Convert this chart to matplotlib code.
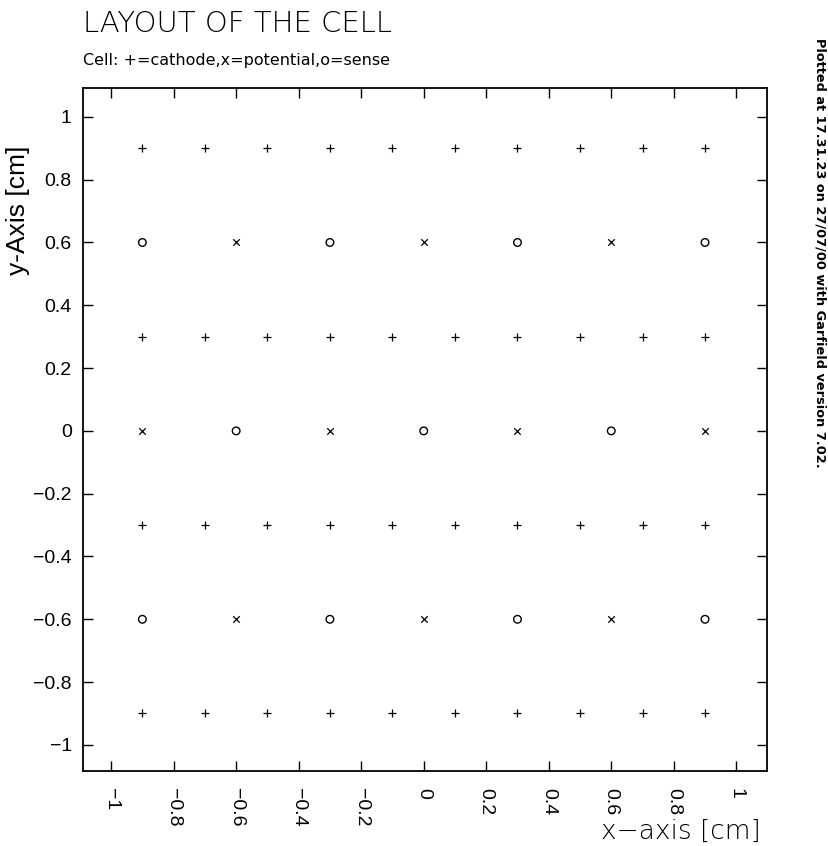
import numpy as np
import matplotlib
matplotlib.use("Agg")
import matplotlib.pyplot as plt

# wire positions [cm]
cathode_x = [-0.9, -0.7, -0.5, -0.3, -0.1, 0.1, 0.3, 0.5, 0.7, 0.9]
cathode_rows = [0.9, 0.3, -0.3, -0.9]
sense_x = [-0.9, -0.3, 0.3, 0.9, -0.6, 0.0, 0.6, -0.9, -0.3, 0.3, 0.9]
sense_y = [0.6, 0.6, 0.6, 0.6, 0.0, 0.0, 0.0, -0.6, -0.6, -0.6, -0.6]
potential_x = [-0.6, 0.0, 0.6, -0.9, -0.3, 0.3, 0.9, -0.6, 0.0, 0.6]
potential_y = [0.6, 0.6, 0.6, 0.0, 0.0, 0.0, 0.0, -0.6, -0.6, -0.6]
ticks = [-1, -0.8, -0.6, -0.4, -0.2, 0, 0.2, 0.4, 0.6, 0.8, 1]
tick_labels = ["\u22121", "\u22120.8", "\u22120.6", "\u22120.4", "\u22120.2", "0",
               "0.2", "0.4", "0.6", "0.8", "1"]

fig = plt.figure(figsize=(8.29, 8.46), dpi=100)
ax = fig.add_axes([0.1001, 0.0887, 0.825, 0.8073])

cx = np.tile(cathode_x, len(cathode_rows))
cy = np.repeat(cathode_rows, len(cathode_x))
ax.scatter(cx, cy, marker="+", s=30, c="k", linewidths=0.9)
ax.scatter(potential_x, potential_y, marker="x", s=22, c="k", linewidths=0.9)
ax.scatter(sense_x, sense_y, marker="o", s=30, facecolors="none", edgecolors="k", linewidths=1.0)

ax.set_xlim(-1.09, 1.098)
ax.set_ylim(-1.083, 1.092)
ax.set_xticks(ticks)
ax.set_xticklabels(tick_labels, rotation=-90, fontsize=14, family="Liberation Sans")
ax.set_yticks(ticks)
ax.set_yticklabels(tick_labels, fontsize=14, family="Liberation Sans")
ax.tick_params(direction="in", top=True, right=True, length=7, width=1, pad=8)
ax.tick_params(axis="x", pad=12)
for s in ax.spines.values():
    s.set_linewidth(1.3)

ax.set_ylabel("y-Axis [cm]", fontsize=19, family="Liberation Sans")
ax.yaxis.set_label_coords(-0.077, 0.821)
fig.text(0.918, 0.009, "x\u2212axis [cm]", ha="right", va="baseline", fontsize=19,
         family="DejaVu Sans", fontweight="light")

fig.text(0.1, 0.972, "LAYOUT OF THE CELL", ha="left", va="center", fontsize=21,
         family="DejaVu Sans", fontweight="light")
fig.text(0.1, 0.929, "Cell: +=cathode,x=potential,o=sense", ha="left", va="center",
         fontsize=11.5, family="DejaVu Sans")
fig.text(0.989, 0.955, "Plotted at 17.31.23 on 27/07/00 with Garfield version 7.02.",
         rotation=-90, ha="center", va="top", fontsize=9.3, fontweight="bold",
         family="DejaVu Sans")

fig.savefig("out.png", dpi=100)
